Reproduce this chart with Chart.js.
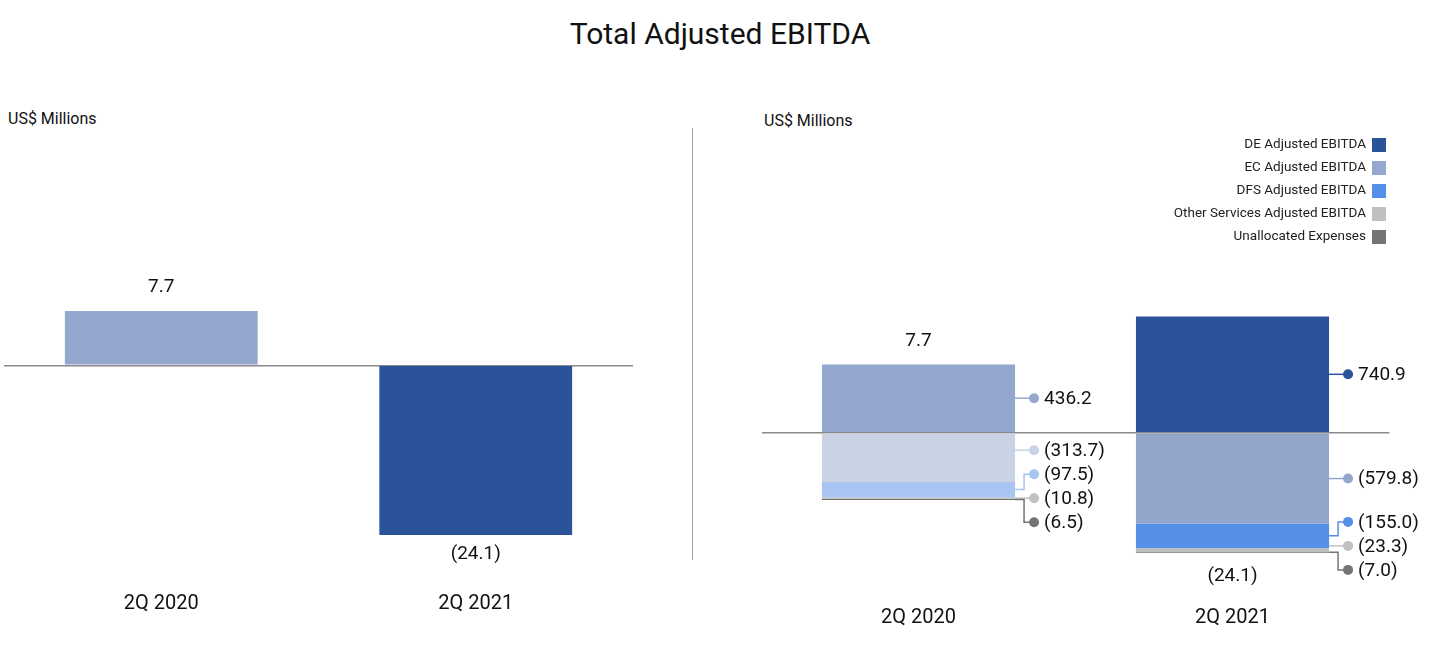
<!DOCTYPE html>
<html>
<head>
<meta charset="utf-8">
<script src="https://cdn.jsdelivr.net/npm/chart.js@4.4.1/dist/chart.umd.min.js"></script>
<style>
  body { margin: 0; background: #fff; width: 1440px; height: 654px; overflow: hidden; position: relative; font-family: Roboto, sans-serif; }
  #title { position: absolute; top: 16px; left: 0; width: 1440px; text-align: center; font-size: 30px; color: #111; }
  .unit { position: absolute; font-size: 16px; color: #111; }
  #divider { position: absolute; left: 692px; top: 128px; width: 1px; height: 432px; background: #a0a0a0; }
  #leftWrap { position: absolute; left: 0; top: 0; width: 692px; height: 654px; }
  #rightWrap { position: absolute; left: 692px; top: 0; width: 748px; height: 654px; }
</style>
</head>
<body>
<div id="title">Total Adjusted EBITDA</div>
<div class="unit" style="left:8px; top:109px;">US$ Millions</div>
<div class="unit" style="left:764px; top:111px;">US$ Millions</div>
<div id="divider"></div>
<div id="leftWrap"><canvas id="leftChart"></canvas></div>
<div id="rightWrap"><canvas id="rightChart"></canvas></div>
<script>
// data
const categories = ['2Q 2020', '2Q 2021'];
const totalValues = [7.7, -24.1];
const totalLabels = ['7.7', '(24.1)'];

const segmentNames = ['DE Adjusted EBITDA', 'EC Adjusted EBITDA', 'DFS Adjusted EBITDA',
  'Other Services Adjusted EBITDA', 'Unallocated Expenses'];
const deValues = [-313.7, 740.9];
const ecValues = [436.2, -579.8];
const dfsValues = [-97.5, -155.0];
const otherValues = [-10.8, -23.3];
const unallocatedValues = [-6.5, -7.0];

// colors (per bar, 2020 ones are faded)
const deColors = ['#c9d3e4', '#2b5399'];
const ecColors = ['#94a8cf', '#92a6cc'];
const dfsColors = ['#a8c4f2', '#5590e8'];
const otherColors = ['#c0c0c0', '#c0c0c0'];
const unallocatedColors = ['#747474', '#747474'];
const legendColors = ['#2b5399', '#94a8cf', '#5590e8', '#c0c0c0', '#747474'];

function fmt(v) {
  return v < 0 ? '(' + Math.abs(v).toFixed(1) + ')' : v.toFixed(1);
}

Chart.defaults.font.family = 'Roboto, sans-serif';
Chart.defaults.color = '#111';
Chart.defaults.animation = false;

function zeroGrid(ctx) {
  return ctx.tick && ctx.tick.value === 0 ? '#8a8a8a' : 'rgba(0,0,0,0)';
}

// ---------- left chart ----------
const leftLabels = {
  id: 'leftLabels',
  afterDatasetsDraw(chart) {
    const ctx = chart.ctx;
    const meta = chart.getDatasetMeta(0);
    ctx.save();
    ctx.font = '19px Roboto, sans-serif';
    ctx.fillStyle = '#111';
    ctx.textAlign = 'center';
    ctx.textBaseline = 'middle';
    meta.data.forEach((bar, i) => {
      const y = totalValues[i] >= 0 ? bar.y - 24 : bar.y + 19;
      ctx.fillText(totalLabels[i], bar.x, y);
    });
    ctx.restore();
  }
};

new Chart(document.getElementById('leftChart'), {
  type: 'bar',
  data: {
    labels: categories,
    datasets: [{
      label: 'Total Adjusted EBITDA',
      data: totalValues,
      backgroundColor: ['#94a8cf', '#2b5399'],
      borderWidth: 0,
      barPercentage: 1,
      categoryPercentage: 0.613
    }]
  },
  options: {
    responsive: true,
    maintainAspectRatio: false,
    layout: { padding: { left: 4, right: 59, top: 154, bottom: 23.5 } },
    plugins: { legend: { display: false }, tooltip: { enabled: false } },
    scales: {
      x: {
        grid: { display: false, drawTicks: false },
        border: { display: false },
        ticks: { font: { size: 20 }, padding: 15, color: '#111' }
      },
      y: {
        min: -30,
        max: 30,
        border: { display: false },
        ticks: { display: false, stepSize: 30 },
        grid: { drawTicks: false, color: zeroGrid, lineWidth: 1.5 }
      }
    }
  },
  plugins: [leftLabels]
});

// ---------- right chart ----------
// spread callout labels so they keep a minimum gap, centred on their segments
function spreadLabels(mids, gap) {
  let clusters = mids.map((m, i) => ({ idx: [i], mids: [m] }));
  const startOf = c => c.mids.reduce((a, b) => a + b, 0) / c.mids.length - (c.mids.length - 1) * gap / 2;
  let merged = true;
  while (merged) {
    merged = false;
    for (let k = 0; k < clusters.length - 1; k++) {
      const a = clusters[k], b = clusters[k + 1];
      const aEnd = startOf(a) + (a.mids.length - 1) * gap;
      if (startOf(b) - aEnd < gap) {
        clusters.splice(k, 2, { idx: a.idx.concat(b.idx), mids: a.mids.concat(b.mids) });
        merged = true;
        break;
      }
    }
  }
  const out = [];
  clusters.forEach(c => {
    const s = startOf(c);
    c.idx.forEach((id, j) => { out[id] = s + j * gap; });
  });
  return out;
}

const callouts = {
  id: 'callouts',
  afterDatasetsDraw(chart) {
    const ctx = chart.ctx;
    const yScale = chart.scales.y;
    ctx.save();
    categories.forEach((cat, i) => {
      const segs = [];
      chart.data.datasets.forEach((ds, d) => {
        const el = chart.getDatasetMeta(d).data[i];
        const top = Math.min(el.y, el.base), bottom = Math.max(el.y, el.base);
        segs.push({ top, bottom, mid: (top + bottom) / 2, value: ds.data[i], color: ds.backgroundColor[i], right: el.x + el.width / 2, x: el.x });
      });
      segs.sort((a, b) => a.mid - b.mid);
      const ys = spreadLabels(segs.map(s => s.mid), 24);
      segs.forEach((s, k) => {
        const ly = ys[k];
        const dotX = s.right + 19;
        const elbowX = s.right + 9;
        const tol = (s.bottom - s.top) < 8 ? 5 : 1;
        ctx.strokeStyle = s.color;
        ctx.lineWidth = 1.5;
        ctx.beginPath();
        if (ly >= s.top - tol && ly <= s.bottom + tol) {
          ctx.moveTo(s.right, ly);
          ctx.lineTo(dotX, ly);
        } else {
          ctx.moveTo(s.right, s.mid);
          ctx.lineTo(elbowX, s.mid);
          ctx.lineTo(elbowX, ly);
          ctx.lineTo(dotX, ly);
        }
        ctx.stroke();
        ctx.fillStyle = s.color;
        ctx.beginPath();
        ctx.arc(dotX, ly, 5, 0, Math.PI * 2);
        ctx.fill();
        ctx.fillStyle = '#111';
        ctx.font = '19px Roboto, sans-serif';
        ctx.textAlign = 'left';
        ctx.textBaseline = 'middle';
        ctx.fillText(fmt(s.value), dotX + 10, ly + 1);
      });
      // total label
      let pos = 0, neg = 0;
      chart.data.datasets.forEach(ds => { if (ds.data[i] >= 0) pos += ds.data[i]; else neg += ds.data[i]; });
      ctx.fillStyle = '#111';
      ctx.font = '19px Roboto, sans-serif';
      ctx.textAlign = 'center';
      ctx.textBaseline = 'middle';
      const x = segs[0].x;
      if (totalValues[i] >= 0) {
        ctx.fillText(totalLabels[i], x, yScale.getPixelForValue(pos) - 23);
      } else {
        ctx.fillText(totalLabels[i], x, yScale.getPixelForValue(neg) + 24);
      }
    });

    // legend, text right-aligned with box to the right
    ctx.font = '13.5px Roboto, sans-serif';
    ctx.textAlign = 'right';
    ctx.textBaseline = 'middle';
    segmentNames.forEach((name, k) => {
      const y = 145 + k * 23;
      ctx.fillStyle = '#222';
      ctx.fillText(name, 674, y);
      ctx.fillStyle = legendColors[k];
      ctx.fillRect(680, y - 7, 14, 14);
    });
    ctx.restore();
  }
};

new Chart(document.getElementById('rightChart'), {
  type: 'bar',
  data: {
    labels: categories,
    datasets: [
      { label: segmentNames[0], data: deValues, backgroundColor: deColors },
      { label: segmentNames[1], data: ecValues, backgroundColor: ecColors },
      { label: segmentNames[2], data: dfsValues, backgroundColor: dfsColors },
      { label: segmentNames[3], data: otherValues, backgroundColor: otherColors },
      { label: segmentNames[4], data: unallocatedValues, backgroundColor: unallocatedColors }
    ].map(ds => Object.assign(ds, { borderWidth: 0, barPercentage: 1, categoryPercentage: 0.615 }))
  },
  options: {
    responsive: true,
    maintainAspectRatio: false,
    layout: { padding: { left: 69.5, right: 50.5, top: 276, bottom: 8.5 } },
    plugins: { legend: { display: false }, tooltip: { enabled: false } },
    scales: {
      x: {
        stacked: true,
        grid: { display: false, drawTicks: false },
        border: { display: false },
        ticks: { font: { size: 20 }, padding: 16, color: '#111' }
      },
      y: {
        stacked: true,
        min: -1000,
        max: 1000,
        border: { display: false },
        ticks: { display: false, stepSize: 1000 },
        grid: { drawTicks: false, color: zeroGrid, lineWidth: 1.5 }
      }
    }
  },
  plugins: [callouts]
});
</script>
</body>
</html>
